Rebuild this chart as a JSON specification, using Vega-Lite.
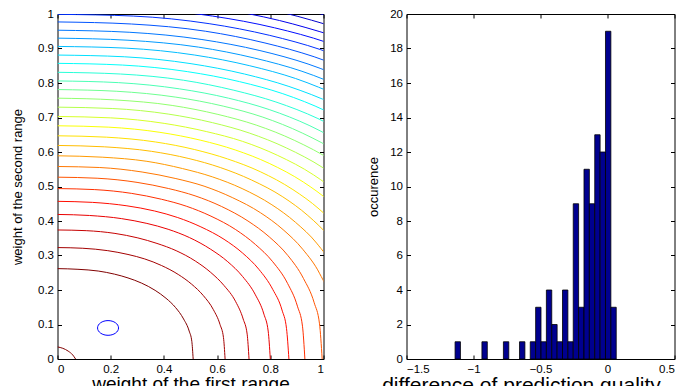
{
  "$schema": "https://vega.github.io/schema/vega-lite/v6.json",
  "padding": {"left": 10.5, "top": 7, "right": 0, "bottom": 0},
  "background": "white",
  "spacing": 42,
  "config": {
    "view": {"stroke": "#000000", "strokeWidth": 1},
    "axis": {
      "domain": false, "grid": false, "zindex": 1,
      "labelFont": "Liberation Sans", "labelFontSize": 11.5, "labelColor": "#000000",
      "titleFont": "Liberation Sans", "titleFontWeight": "normal", "titleColor": "#000000",
      "tickColor": "#000000", "tickSize": -4, "tickWidth": 1, "labelPadding": 8
    }
  },
  "datasets": {
    "contours": [
      {"g":0,"x":0,"y":0.035},{"g":0,"x":0.02,"y":0.031},{"g":0,"x":0.04,"y":0.023},{"g":0,"x":0.057,"y":0.012},{"g":0,"x":0.068,"y":0},
      {"g":1,"x":0,"y":0.262},{"g":1,"x":0.077,"y":0.26},{"g":1,"x":0.153,"y":0.255},{"g":1,"x":0.214,"y":0.246},{"g":1,"x":0.265,"y":0.235},{"g":1,"x":0.316,"y":0.22},{"g":1,"x":0.367,"y":0.199},{"g":1,"x":0.408,"y":0.176},{"g":1,"x":0.444,"y":0.149},{"g":1,"x":0.474,"y":0.116},{"g":1,"x":0.495,"y":0.081},{"g":1,"x":0.505,"y":0.051},{"g":1,"x":0.51,"y":0},
      {"g":2,"x":0,"y":0.323},{"g":2,"x":0.095,"y":0.321},{"g":2,"x":0.189,"y":0.314},{"g":2,"x":0.265,"y":0.303},{"g":2,"x":0.328,"y":0.29},{"g":2,"x":0.391,"y":0.271},{"g":2,"x":0.454,"y":0.245},{"g":2,"x":0.504,"y":0.217},{"g":2,"x":0.548,"y":0.184},{"g":2,"x":0.586,"y":0.143},{"g":2,"x":0.611,"y":0.1},{"g":2,"x":0.624,"y":0.062},{"g":2,"x":0.63,"y":0},
      {"g":3,"x":0,"y":0.374},{"g":3,"x":0.108,"y":0.372},{"g":3,"x":0.216,"y":0.364},{"g":3,"x":0.302,"y":0.351},{"g":3,"x":0.374,"y":0.335},{"g":3,"x":0.446,"y":0.314},{"g":3,"x":0.518,"y":0.284},{"g":3,"x":0.576,"y":0.251},{"g":3,"x":0.626,"y":0.213},{"g":3,"x":0.67,"y":0.166},{"g":3,"x":0.698,"y":0.116},{"g":3,"x":0.713,"y":0.072},{"g":3,"x":0.72,"y":0},
      {"g":4,"x":0,"y":0.419},{"g":4,"x":0.12,"y":0.416},{"g":4,"x":0.24,"y":0.407},{"g":4,"x":0.336,"y":0.393},{"g":4,"x":0.416,"y":0.376},{"g":4,"x":0.496,"y":0.352},{"g":4,"x":0.576,"y":0.318},{"g":4,"x":0.64,"y":0.282},{"g":4,"x":0.696,"y":0.239},{"g":4,"x":0.744,"y":0.186},{"g":4,"x":0.776,"y":0.13},{"g":4,"x":0.792,"y":0.081},{"g":4,"x":0.8,"y":0},
      {"g":5,"x":0,"y":0.457},{"g":5,"x":0.131,"y":0.454},{"g":5,"x":0.261,"y":0.444},{"g":5,"x":0.365,"y":0.429},{"g":5,"x":0.452,"y":0.41},{"g":5,"x":0.539,"y":0.383},{"g":5,"x":0.626,"y":0.347},{"g":5,"x":0.696,"y":0.307},{"g":5,"x":0.757,"y":0.26},{"g":5,"x":0.809,"y":0.202},{"g":5,"x":0.844,"y":0.142},{"g":5,"x":0.861,"y":0.088},{"g":5,"x":0.87,"y":0},
      {"g":6,"x":0,"y":0.494},{"g":6,"x":0.14,"y":0.491},{"g":6,"x":0.279,"y":0.48},{"g":6,"x":0.391,"y":0.463},{"g":6,"x":0.484,"y":0.443},{"g":6,"x":0.577,"y":0.414},{"g":6,"x":0.67,"y":0.375},{"g":6,"x":0.744,"y":0.332},{"g":6,"x":0.809,"y":0.282},{"g":6,"x":0.865,"y":0.219},{"g":6,"x":0.902,"y":0.153},{"g":6,"x":0.921,"y":0.095},{"g":6,"x":0.93,"y":0},
      {"g":7,"x":0,"y":0.527},{"g":7,"x":0.149,"y":0.524},{"g":7,"x":0.299,"y":0.512},{"g":7,"x":0.418,"y":0.494},{"g":7,"x":0.517,"y":0.473},{"g":7,"x":0.617,"y":0.442},{"g":7,"x":0.716,"y":0.4},{"g":7,"x":0.796,"y":0.354},{"g":7,"x":0.866,"y":0.3},{"g":7,"x":0.925,"y":0.233},{"g":7,"x":0.965,"y":0.163},{"g":7,"x":0.985,"y":0.102},{"g":7,"x":0.995,"y":0},
      {"g":8,"x":0,"y":0.558},{"g":8,"x":0.159,"y":0.555},{"g":8,"x":0.318,"y":0.542},{"g":8,"x":0.445,"y":0.523},{"g":8,"x":0.551,"y":0.501},{"g":8,"x":0.657,"y":0.468},{"g":8,"x":0.763,"y":0.424},{"g":8,"x":0.848,"y":0.375},{"g":8,"x":0.922,"y":0.318},{"g":8,"x":0.986,"y":0.247},{"g":8,"x":1.028,"y":0.173},{"g":8,"x":1.049,"y":0.108},{"g":8,"x":1.06,"y":0},
      {"g":9,"x":0,"y":0.589},{"g":9,"x":0.168,"y":0.585},{"g":9,"x":0.336,"y":0.573},{"g":9,"x":0.47,"y":0.552},{"g":9,"x":0.582,"y":0.528},{"g":9,"x":0.694,"y":0.494},{"g":9,"x":0.806,"y":0.447},{"g":9,"x":0.895,"y":0.396},{"g":9,"x":0.974,"y":0.336},{"g":9,"x":1.041,"y":0.261},{"g":9,"x":1.085,"y":0.183},
      {"g":10,"x":0,"y":0.619},{"g":10,"x":0.176,"y":0.615},{"g":10,"x":0.353,"y":0.602},{"g":10,"x":0.494,"y":0.581},{"g":10,"x":0.612,"y":0.555},{"g":10,"x":0.729,"y":0.519},{"g":10,"x":0.847,"y":0.47},{"g":10,"x":0.941,"y":0.416},{"g":10,"x":1.023,"y":0.353},{"g":10,"x":1.094,"y":0.274},
      {"g":11,"x":0,"y":0.647},{"g":11,"x":0.184,"y":0.643},{"g":11,"x":0.369,"y":0.629},{"g":11,"x":0.516,"y":0.607},{"g":11,"x":0.639,"y":0.58},{"g":11,"x":0.762,"y":0.543},{"g":11,"x":0.885,"y":0.491},{"g":11,"x":0.983,"y":0.435},{"g":11,"x":1.069,"y":0.369},{"g":11,"x":1.143,"y":0.287},
      {"g":12,"x":0,"y":0.676},{"g":12,"x":0.193,"y":0.672},{"g":12,"x":0.385,"y":0.657},{"g":12,"x":0.539,"y":0.634},{"g":12,"x":0.668,"y":0.606},{"g":12,"x":0.796,"y":0.567},{"g":12,"x":0.924,"y":0.513},{"g":12,"x":1.027,"y":0.454},{"g":12,"x":1.117,"y":0.385},
      {"g":13,"x":0,"y":0.703},{"g":13,"x":0.2,"y":0.699},{"g":13,"x":0.401,"y":0.683},{"g":13,"x":0.561,"y":0.659},{"g":13,"x":0.695,"y":0.631},{"g":13,"x":0.828,"y":0.59},{"g":13,"x":0.962,"y":0.534},{"g":13,"x":1.069,"y":0.472},{"g":13,"x":1.162,"y":0.401},
      {"g":14,"x":0,"y":0.73},{"g":14,"x":0.208,"y":0.726},{"g":14,"x":0.416,"y":0.71},{"g":14,"x":0.583,"y":0.685},{"g":14,"x":0.721,"y":0.655},{"g":14,"x":0.86,"y":0.612},{"g":14,"x":0.999,"y":0.554},{"g":14,"x":1.11,"y":0.491},
      {"g":15,"x":0,"y":0.756},{"g":15,"x":0.215,"y":0.751},{"g":15,"x":0.431,"y":0.735},{"g":15,"x":0.603,"y":0.709},{"g":15,"x":0.747,"y":0.678},{"g":15,"x":0.89,"y":0.634},{"g":15,"x":1.034,"y":0.574},{"g":15,"x":1.149,"y":0.508},
      {"g":16,"x":0,"y":0.781},{"g":16,"x":0.223,"y":0.776},{"g":16,"x":0.445,"y":0.759},{"g":16,"x":0.623,"y":0.733},{"g":16,"x":0.772,"y":0.701},{"g":16,"x":0.92,"y":0.655},{"g":16,"x":1.068,"y":0.593},{"g":16,"x":1.187,"y":0.525},
      {"g":17,"x":0,"y":0.806},{"g":17,"x":0.23,"y":0.801},{"g":17,"x":0.459,"y":0.783},{"g":17,"x":0.643,"y":0.756},{"g":17,"x":0.796,"y":0.723},{"g":17,"x":0.949,"y":0.676},{"g":17,"x":1.102,"y":0.612},
      {"g":18,"x":0,"y":0.831},{"g":18,"x":0.237,"y":0.826},{"g":18,"x":0.474,"y":0.808},{"g":18,"x":0.663,"y":0.779},{"g":18,"x":0.821,"y":0.745},{"g":18,"x":0.979,"y":0.697},{"g":18,"x":1.137,"y":0.631},
      {"g":19,"x":0,"y":0.857},{"g":19,"x":0.244,"y":0.852},{"g":19,"x":0.488,"y":0.833},{"g":19,"x":0.684,"y":0.804},{"g":19,"x":0.847,"y":0.769},{"g":19,"x":1.009,"y":0.719},{"g":19,"x":1.172,"y":0.65},
      {"g":20,"x":0,"y":0.881},{"g":20,"x":0.251,"y":0.876},{"g":20,"x":0.502,"y":0.856},{"g":20,"x":0.703,"y":0.826},{"g":20,"x":0.87,"y":0.79},{"g":20,"x":1.038,"y":0.739},{"g":20,"x":1.205,"y":0.669},
      {"g":21,"x":0,"y":0.906},{"g":21,"x":0.258,"y":0.901},{"g":21,"x":0.516,"y":0.881},{"g":21,"x":0.723,"y":0.85},{"g":21,"x":0.895,"y":0.813},{"g":21,"x":1.067,"y":0.76},
      {"g":22,"x":0,"y":0.93},{"g":22,"x":0.265,"y":0.924},{"g":22,"x":0.53,"y":0.904},{"g":22,"x":0.742,"y":0.872},{"g":22,"x":0.919,"y":0.834},{"g":22,"x":1.096,"y":0.78},
      {"g":23,"x":0,"y":0.953},{"g":23,"x":0.272,"y":0.947},{"g":23,"x":0.543,"y":0.926},{"g":23,"x":0.761,"y":0.894},{"g":23,"x":0.942,"y":0.855},{"g":23,"x":1.123,"y":0.8},
      {"g":24,"x":0,"y":0.977},{"g":24,"x":0.278,"y":0.971},{"g":24,"x":0.557,"y":0.95},{"g":24,"x":0.78,"y":0.916},{"g":24,"x":0.965,"y":0.876},{"g":24,"x":1.151,"y":0.82},
      {"g":25,"x":0,"y":0.999},{"g":25,"x":0.285,"y":0.994},{"g":25,"x":0.57,"y":0.972},{"g":25,"x":0.798,"y":0.938},{"g":25,"x":0.988,"y":0.897},{"g":25,"x":1.178,"y":0.839},
      {"g":26,"x":0,"y":1.023},{"g":26,"x":0.292,"y":1.017},{"g":26,"x":0.583,"y":0.994},{"g":26,"x":0.816,"y":0.96},{"g":26,"x":1.011,"y":0.918},{"g":26,"x":1.205,"y":0.858},
      {"g":27,"x":0,"y":1.046},{"g":27,"x":0.298,"y":1.04},{"g":27,"x":0.596,"y":1.017},{"g":27,"x":0.835,"y":0.981},{"g":27,"x":1.033,"y":0.938},
      {"g":28,"x":0,"y":1.069},{"g":28,"x":0.305,"y":1.063},{"g":28,"x":0.609,"y":1.039},{"g":28,"x":0.853,"y":1.003},{"g":28,"x":1.056,"y":0.959},
      {"g":29,"x":0,"y":1.092},{"g":29,"x":0.311,"y":1.085},{"g":29,"x":0.623,"y":1.061},{"g":29,"x":0.872,"y":1.024},{"g":29,"x":1.079,"y":0.98},
      {"g":30,"x":0,"y":1.115},{"g":30,"x":0.318,"y":1.108},{"g":30,"x":0.636,"y":1.084},{"g":30,"x":0.89,"y":1.046},{"g":30,"x":1.102,"y":1.0}
    ],
    "bins": [
      {"lo":-1.1375,"hi":-1.0974,"n":1},
      {"lo":-0.9371,"hi":-0.897,"n":1},
      {"lo":-0.7768,"hi":-0.7367,"n":1},
      {"lo":-0.6565,"hi":-0.6164,"n":1},
      {"lo":-0.5764,"hi":-0.5363,"n":1},
      {"lo":-0.5363,"hi":-0.4962,"n":3},
      {"lo":-0.4962,"hi":-0.4561,"n":1},
      {"lo":-0.4561,"hi":-0.416,"n":4},
      {"lo":-0.416,"hi":-0.3759,"n":2},
      {"lo":-0.3759,"hi":-0.3358,"n":1},
      {"lo":-0.3358,"hi":-0.2957,"n":4},
      {"lo":-0.2957,"hi":-0.2556,"n":1},
      {"lo":-0.2556,"hi":-0.2155,"n":9},
      {"lo":-0.2155,"hi":-0.1754,"n":3},
      {"lo":-0.1754,"hi":-0.1353,"n":11},
      {"lo":-0.1353,"hi":-0.0952,"n":9},
      {"lo":-0.0952,"hi":-0.0551,"n":13},
      {"lo":-0.0551,"hi":-0.015,"n":12},
      {"lo":-0.015,"hi":0.0251,"n":19},
      {"lo":0.0251,"hi":0.0652,"n":3}
    ]
  },
  "hconcat": [
    {
      "width": 266,
      "height": 345,
      "layer": [
        {
          "data": {"name": "contours"},
          "mark": {"type": "line", "clip": true, "strokeWidth": 1, "interpolate": "monotone"},
          "encoding": {
            "x": {"field": "x", "type": "quantitative",
                  "scale": {"domain": [0, 1], "nice": false, "zero": false},
                  "axis": {"values": [0, 0.2, 0.4, 0.6, 0.8, 1], "format": "~g", "title": "weight of the first range", "titleFontSize": 19, "titlePadding": 0}},
            "y": {"field": "y", "type": "quantitative",
                  "scale": {"domain": [0, 1], "nice": false, "zero": false},
                  "axis": {"values": [0, 0.1, 0.2, 0.3, 0.4, 0.5, 0.6, 0.7, 0.8, 0.9, 1], "format": "~g", "title": "weight of the second range", "titleFontSize": 13, "titlePadding": 13}},
            "detail": {"field": "g", "type": "nominal"},
            "color": {"field": "g", "type": "quantitative", "legend": null,
                      "scale": {"domain": [1, 4.625, 11.875, 19.125, 26.375, 30], "range": ["#800000", "#FF0000", "#FFFF00", "#00FFFF", "#0000FF", "#00008F"], "interpolate": "rgb", "clamp": true}}
          }
        },
        {
          "data": {"values": [{"x": 0.19, "y": 0.09}]},
          "mark": {"type": "point", "shape": "M-1,0A1,0.7,0,1,0,1,0A1,0.7,0,1,0,-1,0Z", "size": 441, "filled": false, "stroke": "#0000FF", "strokeWidth": 1, "opacity": 1},
          "encoding": {
            "x": {"field": "x", "type": "quantitative",
                  "axis": {"orient": "top", "values": [0, 0.2, 0.4, 0.6, 0.8, 1], "labels": false, "title": null}},
            "y": {"field": "y", "type": "quantitative",
                  "axis": {"orient": "right", "values": [0, 0.1, 0.2, 0.3, 0.4, 0.5, 0.6, 0.7, 0.8, 0.9, 1], "labels": false, "title": null}}
          }
        }
      ],
      "resolve": {"axis": {"x": "independent", "y": "independent"}}
    },
    {
      "width": 268,
      "height": 345,
      "data": {"name": "bins"},
      "layer": [
        {
          "mark": {"type": "bar", "fill": "#00008F", "stroke": "#000000", "strokeWidth": 0.8},
          "encoding": {
            "x": {"field": "lo", "type": "quantitative",
                  "scale": {"domain": [-1.5, 0.5], "nice": false, "zero": false},
                  "axis": {"values": [-1.5, -1, -0.5, 0, 0.5], "format": "~g", "title": "difference of prediction quality", "titleFontSize": 21, "titlePadding": 0, "titleX": 114.5, "titleAlign": "center"}},
            "x2": {"field": "hi"},
            "y": {"field": "n", "type": "quantitative",
                  "scale": {"domain": [0, 20], "nice": false},
                  "axis": {"values": [0, 2, 4, 6, 8, 10, 12, 14, 16, 18, 20], "title": "occurence", "titleFontSize": 13, "titlePadding": 9.5}},
            "y2": {"datum": 0}
          }
        },
        {
          "mark": {"type": "bar", "opacity": 0},
          "encoding": {
            "x": {"field": "lo", "type": "quantitative",
                  "axis": {"orient": "top", "values": [-1.5, -1, -0.5, 0, 0.5], "labels": false, "title": null}},
            "x2": {"field": "hi"},
            "y": {"field": "n", "type": "quantitative",
                  "axis": {"orient": "right", "values": [0, 2, 4, 6, 8, 10, 12, 14, 16, 18, 20], "labels": false, "title": null}},
            "y2": {"datum": 0}
          }
        }
      ],
      "resolve": {"axis": {"x": "independent", "y": "independent"}}
    }
  ]
}
